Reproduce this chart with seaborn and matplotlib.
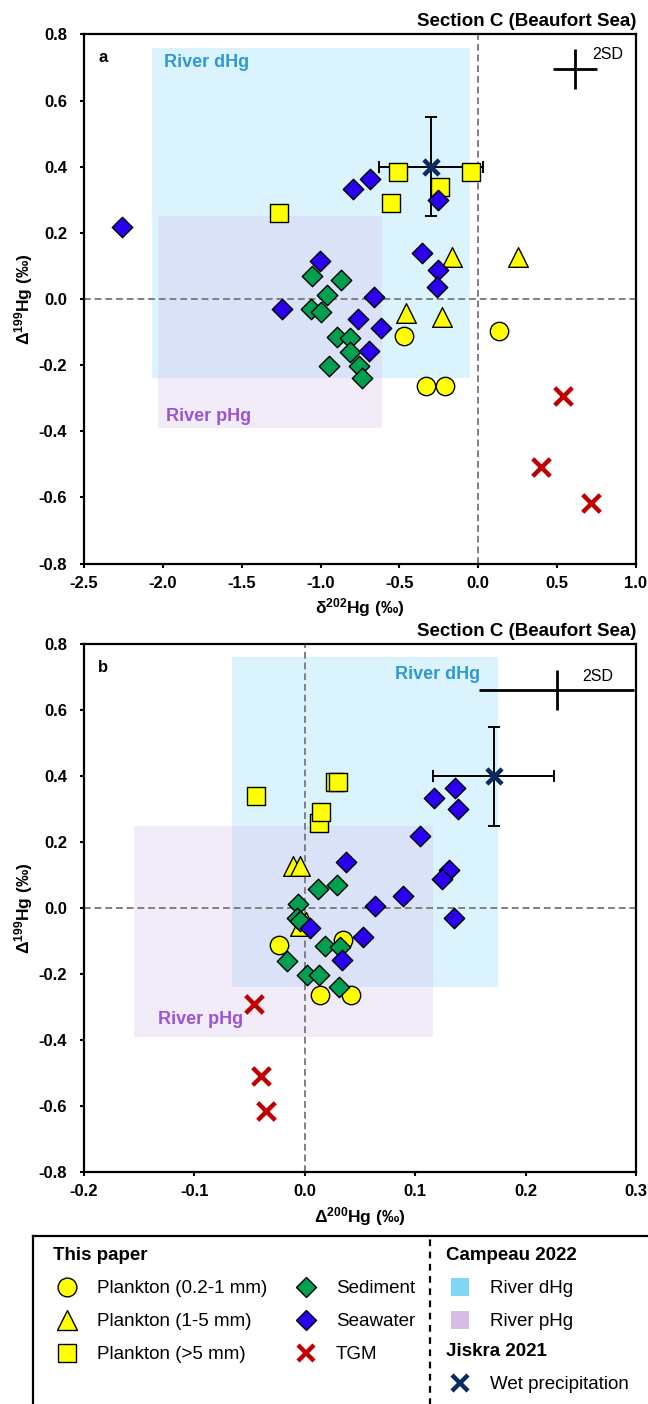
import matplotlib
matplotlib.use('Agg')
import matplotlib.pyplot as plt
import seaborn as sns
from matplotlib.lines import Line2D
from matplotlib.ticker import FormatStrFormatter

# ---- data ----
# plankton 0.2-1 mm
circ_d202 = [-0.470, 0.133, -0.334, -0.208]
circ_D200 = [-0.023, 0.035, 0.014, 0.042]
circ_D199 = [-0.112, -0.097, -0.263, -0.263]
# plankton 1-5 mm
tri_d202 = [-0.165, 0.253, -0.456, -0.232]
tri_D200 = [-0.011, -0.004, 0.001, -0.004]
tri_D199 = [0.126, 0.126, -0.043, -0.055]
# plankton >5 mm
sq_d202 = [-1.266, -0.508, -0.045, -0.244, -0.553]
sq_D200 = [0.013, 0.027, 0.030, -0.044, 0.015]
sq_D199 = [0.259, 0.383, 0.383, 0.338, 0.290]
# sediment
sed_d202 = [-1.056, -0.869, -0.962, -1.061, -0.998, -0.898, -0.813, -0.815, -0.944, -0.754, -0.740]
sed_D200 = [0.029, 0.012, -0.006, -0.007, -0.004, 0.018, 0.032, -0.016, 0.002, 0.013, 0.031]
sed_D199 = [0.071, 0.057, 0.012, -0.030, -0.038, -0.116, -0.118, -0.160, -0.202, -0.204, -0.238]
# seawater
sw_d202 = [-2.26, -0.797, -0.684, -0.255, -0.357, -1.004, -0.255, -0.26, -0.661, -1.242, -0.763, -0.616, -0.691]
sw_D200 = [0.104, 0.117, 0.136, 0.139, 0.037, 0.131, 0.124, 0.089, 0.064, 0.135, 0.005, 0.053, 0.034]
sw_D199 = [0.217, 0.333, 0.364, 0.300, 0.139, 0.114, 0.088, 0.035, 0.005, -0.030, -0.062, -0.087, -0.157]
# TGM
tgm_d202 = [0.535, 0.400, 0.716]
tgm_D200 = [-0.046, -0.040, -0.035]
tgm_D199 = [-0.292, -0.509, -0.616]
# wet precipitation (Jiskra 2021), mean and 2SD
wet_d202, wet_d202_err = [-0.30], [0.33]
wet_D200, wet_D200_err = [0.171], [0.055]
wet_D199, wet_D199_err = [0.40], [0.15]
# river ranges (Campeau 2022)
dhg_d202 = [-2.07, -0.05]
dhg_D200 = [-0.066, 0.175]
dhg_D199 = [-0.24, 0.76]
phg_d202 = [-2.03, -0.61]
phg_D200 = [-0.155, 0.116]
phg_D199 = [-0.39, 0.25]
# analytical 2SD
sd_d202 = 0.14
sd_D200 = 0.07
sd_D199 = 0.06

YELLOW = '#FFFF00'
GREEN = '#00A050'
BLUE = '#2B00F0'
RED = '#C00000'
NAVY = '#0C2A62'
DHG = '#80D6F5'
PHG = '#D6BDEA'
DHG_TXT = '#2E9AD0'
PHG_TXT = '#9B55D4'

sns.set_theme(style='ticks')
plt.rcParams['font.family'] = ['Liberation Sans', 'DejaVu Sans']
plt.rcParams['mathtext.default'] = 'regular'
plt.rcParams['axes.unicode_minus'] = False
plt.rcParams['text.color'] = 'black'
plt.rcParams['axes.labelcolor'] = 'black'

W, H = 648, 1404
fig = plt.figure(figsize=(W / 100, H / 100), dpi=100)


def box(l, t, r, b):
    return [l / W, 1 - b / H, (r - l) / W, (b - t) / H]


def panel(ax, which, xs, dhg_x, phg_x, wet_x, wet_xerr, sd_x, sd_pos, sd_txt,
          dhg_txt, phg_txt, xlim, xticks, xlabel):
    ax.fill_between(dhg_x, dhg_D199[0], dhg_D199[1], color=DHG, alpha=0.28, lw=0, zorder=0)
    ax.fill_between(phg_x, phg_D199[0], phg_D199[1], color=PHG, alpha=0.30, lw=0, zorder=0.5)
    ax.axhline(0, color='#808080', lw=1.4, ls=(0, (3.5, 2)), zorder=1)
    ax.axvline(0, color='#808080', lw=1.4, ls=(0, (3.5, 2)), zorder=1)

    ax.errorbar(wet_x, wet_D199, xerr=wet_xerr, yerr=wet_D199_err, fmt='none',
                ecolor='black', elinewidth=1.4, capsize=4, capthick=1.4, zorder=2)
    ax.errorbar([sd_pos[0]], [sd_pos[1]], xerr=[sd_x], yerr=[sd_D199], fmt='none',
                ecolor='black', elinewidth=2, capsize=0, zorder=2)

    x_circ, x_tri, x_sq, x_sed, x_sw, x_tgm = xs
    kw = dict(ax=ax, edgecolor='black', linewidth=1, legend=False)
    sns.scatterplot(x=x_circ, y=circ_D199, marker='o', s=175, color=YELLOW, zorder=3, **kw)
    sns.scatterplot(x=x_tri, y=tri_D199, marker='^', s=200, color=YELLOW, zorder=3, **kw)
    sns.scatterplot(x=x_sq, y=sq_D199, marker='s', s=155, color=YELLOW, zorder=3, **kw)
    sns.scatterplot(x=x_sed, y=sed_D199, marker='D', s=108, color=GREEN, zorder=4, **kw)
    sns.scatterplot(x=x_sw, y=sw_D199, marker='D', s=108, color=BLUE, zorder=5, **kw)
    sns.scatterplot(x=x_tgm, y=tgm_D199, marker='x', s=160, color=RED, linewidth=3.2,
                    legend=False, ax=ax, zorder=5)
    sns.scatterplot(x=wet_x, y=wet_D199, marker='x', s=120, color=NAVY, linewidth=3.2,
                    legend=False, ax=ax, zorder=6)

    ax.text(dhg_txt[0], dhg_txt[1], 'River dHg', color=DHG_TXT, fontsize=13, fontweight='bold',
            ha=dhg_txt[2], va='center', zorder=2)
    ax.text(phg_txt[0], phg_txt[1], 'River pHg', color=PHG_TXT, fontsize=13, fontweight='bold',
            ha='left', va='center', zorder=2)
    ax.text(sd_txt[0], sd_txt[1], '2SD', fontsize=11.5, ha='left', va='center')
    ax.text(0.026, 0.956, which, transform=ax.transAxes, fontsize=12, fontweight='bold',
            ha='left', va='center')

    ax.set_xlim(xlim)
    ax.set_ylim(-0.8, 0.8)
    ax.set_xticks(xticks)
    ax.set_yticks([-0.8, -0.6, -0.4, -0.2, 0.0, 0.2, 0.4, 0.6, 0.8])
    ax.xaxis.set_major_formatter(FormatStrFormatter('%.1f'))
    ax.yaxis.set_major_formatter(FormatStrFormatter('%.1f'))
    ax.tick_params(axis='both', direction='out', length=3, width=1.5, labelsize=12,
                   color='black', labelcolor='black')
    ax.tick_params(axis='y', pad=9)
    ax.tick_params(axis='x', pad=6)
    for lab in ax.get_xticklabels() + ax.get_yticklabels():
        lab.set_fontweight('bold')
    for sp in ax.spines.values():
        sp.set_visible(True)
        sp.set_linewidth(1.6)
        sp.set_color('black')
    ax.set_xlabel(xlabel, fontsize=12.5, fontweight='bold', labelpad=4)
    ax.set_ylabel('Δ$^{199}$Hg (‰)', fontsize=12.5, fontweight='bold', labelpad=3)
    ax.set_title('Section C (Beaufort Sea)', loc='right', fontsize=13.5, fontweight='bold', pad=6)
    ax.set_facecolor('white')


ax_a = fig.add_axes(box(84, 34.5, 636, 563.5))
panel(ax_a, 'a', (circ_d202, tri_d202, sq_d202, sed_d202, sw_d202, tgm_d202),
      dhg_d202, phg_d202, wet_d202, wet_d202_err, sd_d202, (0.615, 0.695), (0.72, 0.74),
      (-1.99, 0.716, 'left'), (-1.98, -0.354), (-2.5, 1.0),
      [-2.5, -2.0, -1.5, -1.0, -0.5, 0.0, 0.5, 1.0], 'δ$^{202}$Hg (‰)')

ax_b = fig.add_axes(box(84, 644, 636, 1172))
panel(ax_b, 'b', (circ_D200, tri_D200, sq_D200, sed_D200, sw_D200, tgm_D200),
      dhg_D200, phg_D200, wet_D200, wet_D200_err, sd_D200, (0.228, 0.66), (0.251, 0.703),
      (0.159, 0.709, 'right'), (-0.133, -0.339), (-0.2, 0.3),
      [-0.2, -0.1, 0.0, 0.1, 0.2, 0.3], 'Δ$^{200}$Hg (‰)')

# ---- legend panel ----
lax = fig.add_axes(box(33, 1236.5, 720, 1440))
lax.set_xticks([])
lax.set_yticks([])
lax.set_xlim(0, 1)
lax.set_ylim(0, 1)
for sp in lax.spines.values():
    sp.set_linewidth(1.6)
    sp.set_color('black')
lax.axvline((430 - 33) / (720 - 33), color='black', lw=1.6, ls=(0, (3, 2.5)))


def mk(marker, face, size, edge='black', mew=1.0):
    return Line2D([], [], ls='none', marker=marker, markersize=size, markerfacecolor=face,
                  markeredgecolor=edge, markeredgewidth=mew)


h_this = [mk('o', YELLOW, 13.5), mk('^', YELLOW, 14), mk('s', YELLOW, 12.5),
          mk('D', GREEN, 10.4), mk('D', BLUE, 10.4), mk('x', RED, 12, edge=RED, mew=3.2)]
l_this = ['Plankton (0.2-1 mm)', 'Plankton (1-5 mm)', 'Plankton (>5 mm)',
          'Sediment', 'Seawater', 'TGM']
h_camp = [mk('s', DHG, 13.5, edge=DHG, mew=0), mk('s', PHG, 13.5, edge=PHG, mew=0)]
l_camp = ['River dHg', 'River pHg']
h_jis = [mk('x', NAVY, 11, edge=NAVY, mew=3.2)]
l_jis = ['Wet precipitation']

leg_kw = dict(loc='upper left', bbox_transform=fig.transFigure, frameon=False, fontsize=13.5,
              title_fontproperties={'weight': 'bold', 'size': 13.5}, alignment='left',
              borderpad=0, borderaxespad=0, handlelength=1.5, handletextpad=0.85,
              labelspacing=0.85, columnspacing=1.3, labelcolor='black')
legs = [
    fig.legend(h_this, l_this, title='This paper', ncol=2, bbox_to_anchor=(53 / W, 1 - 1247 / H), **leg_kw),
    fig.legend(h_camp, l_camp, title='Campeau 2022', bbox_to_anchor=(445.5 / W, 1 - 1247 / H), **leg_kw),
    fig.legend(h_jis, l_jis, title='Jiskra 2021', bbox_to_anchor=(445.5 / W, 1 - 1343 / H), **leg_kw),
]
for leg in legs:
    leg.get_title().set_color('black')

fig.savefig('out.png', dpi=100, facecolor='white')
